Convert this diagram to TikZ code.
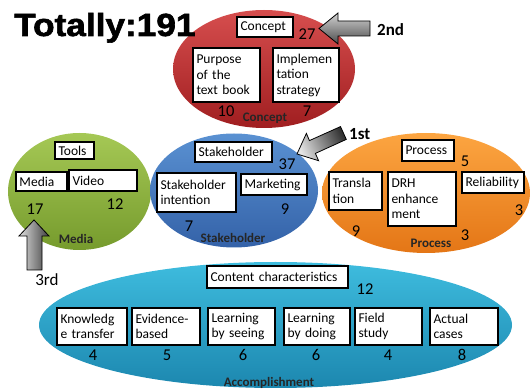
\documentclass[tikz,border=0pt]{standalone}
\usepackage{fontspec}
\usepackage{graphicx}
\setmainfont{Carlito}
\newfontfamily\titlefont[FakeBold=1.8]{Liberation Sans Bold}
\definecolor{redA}{RGB}{214,78,78}
\definecolor{redB}{RGB}{160,30,32}
\definecolor{grnA}{RGB}{165,200,85}
\definecolor{grnB}{RGB}{118,155,45}
\definecolor{bluA}{RGB}{90,145,210}
\definecolor{bluB}{RGB}{52,98,168}
\definecolor{orgA}{RGB}{252,165,65}
\definecolor{orgB}{RGB}{228,118,22}
\definecolor{cyaA}{RGB}{62,188,222}
\definecolor{cyaB}{RGB}{28,135,175}
\begin{document}
\begin{tikzpicture}[x=1pt,y=-1pt,
  box/.style={draw=black, line width=1.3pt, fill=white, font=\fontsize{13.5}{15.5}\selectfont, align=left, inner xsep=3.5pt, inner ysep=1pt, anchor=center},
  num/.style={font=\fontsize{16.5}{18}\selectfont, inner sep=0pt},
  lab/.style={font=\fontsize{13}{15}\selectfont\bfseries, text=black!85, inner sep=0pt},
  rank/.style={font=\fontsize{17}{19}\selectfont\bfseries, inner sep=0pt},
  garrow/.style={draw=black, line width=0.8pt}
]
\useasboundingbox (0,0) rectangle (531,390);

% ellipses
\shade[top color=redA, bottom color=redB] (264,69) ellipse [x radius=91pt, y radius=59pt];
\shade[top color=grnA, bottom color=grnB] (79.5,191.5) ellipse [x radius=71.5pt, y radius=58.5pt];
\shade[top color=bluA, bottom color=bluB] (234,190.5) ellipse [x radius=84pt, y radius=57pt];
\shade[top color=orgA, bottom color=orgB] (426,193) ellipse [x radius=104pt, y radius=60pt];
\shade[top color=cyaA, bottom color=cyaB] (275.5,325) ellipse [x radius=236.5pt, y radius=63pt];

% title
\node[font=\titlefont\fontsize{32}{34}\selectfont, anchor=base west, inner sep=0pt] (title) at (14,36) {\scalebox{1.1}[1]{Totally:191}};

% Concept
\node[box, minimum width=56pt, minimum height=20pt, text width=49pt] (cbox) at (265,27) {Concept};
\node[box, minimum width=67pt, minimum height=54pt, text width=60pt] (purpose) at (226.5,75) {Purpose\\of the\\text book};
\node[box, minimum width=66pt, minimum height=54pt, text width=59pt] (impl) at (306,75) {Implemen\\tation\\strategy};
\node[num] (n27) at (307,34) {27};
\node[num] (n10) at (226,111) {10};
\node[num] (n7a) at (307,111) {7};
\node[lab] (lconcept) at (265,118) {Concept};

% Media
\node[box, minimum width=39pt, minimum height=17pt, text width=32pt] (tools) at (74.5,150.5) {Tools};
\node[box, minimum width=51pt, minimum height=19pt, text width=44pt] (media) at (41.5,181.5) {Media};
\node[box, minimum width=68pt, minimum height=21pt, text width=61pt] (video) at (103,180.5) {Video};
\node[num] (n17) at (35,209) {17};
\node[num] (n12a) at (115,204) {12};
\node[lab] (lmedia) at (76,239) {Media};

% Stakeholder
\node[box, minimum width=77pt, minimum height=20pt, text width=70pt] (stake) at (233.5,152) {Stakeholder};
\node[box, minimum width=79pt, minimum height=39pt, text width=72pt] (intent) at (196.5,192.5) {Stakeholder\\intention};
\node[box, minimum width=66pt, minimum height=21pt, text width=59pt] (market) at (274,184.5) {Marketing};
\node[num] (n37) at (287,164) {37};
\node[num] (n9a) at (285,209) {9};
\node[num] (n7b) at (189,226) {7};
\node[lab] (lstake) at (233,238) {Stakeholder};

% Process
\node[box, minimum width=52pt, minimum height=21pt, text width=45pt] (proc) at (428,150.5) {Process};
\node[box, minimum width=53pt, minimum height=38pt, text width=46pt] (transl) at (355.5,191) {Transla\\tion};
\node[box, minimum width=68pt, minimum height=54pt, text width=61pt] (drh) at (422,199) {DRH\\enhance\\ment};
\node[box, minimum width=61pt, minimum height=21pt, text width=55pt] (reli) at (493,182.5) {Reliability};
\node[num] (n5a) at (465,161) {5};
\node[num] (n3a) at (519,210) {3};
\node[num] (n9b) at (356,231) {9};
\node[num] (n3b) at (465,235) {3};
\node[lab] (lproc) at (431,243) {Process};

% Accomplishment
\node[box, minimum width=141pt, minimum height=22pt, text width=134pt] (content) at (277.5,277) {Content characteristics};
\node[num] (n12b) at (365,289) {12};
\node[box, minimum width=70pt, minimum height=37pt, text width=63pt] (know) at (92,326.5) {Knowledg\\e transfer};
\node[box, minimum width=68pt, minimum height=37pt, text width=61pt] (evid) at (166,326.5) {Evidence-\\based};
\node[box, minimum width=67pt, minimum height=37pt, text width=60pt] (seeing) at (241.5,326.5) {Learning\\by seeing};
\node[box, minimum width=66pt, minimum height=37pt, text width=59pt] (doing) at (317,326.5) {Learning\\by doing};
\node[box, minimum width=67pt, minimum height=37pt, text width=60pt] (field) at (388.5,326.5) {Field\\study};
\node[box, minimum width=68pt, minimum height=37pt, text width=61pt] (actual) at (464,326.5) {Actual\\cases};
\node[num] (n4a) at (93,355) {4};
\node[num] (n5b) at (167,355) {5};
\node[num] (n6a) at (243,355) {6};
\node[num] (n6b) at (316,355) {6};
\node[num] (n4b) at (388,355) {4};
\node[num] (n8) at (462,355) {8};
\node[lab] (lacc) at (269,383) {Accomplishment};

% rank arrows
\draw[garrow, top color=gray!35, bottom color=black!70] (319,28.5) -- (338,13) -- (338,21) -- (370,21) -- (370,36) -- (338,36) -- (338,44) -- cycle;
\node[rank, anchor=west] (second) at (377,30) {2nd};

\draw[garrow, left color=gray!20, right color=black!80, shading angle=115] (297,154) -- (306.4,133.4) -- (309.4,140.6) -- (340.5,126.6) -- (346.3,139.4) -- (315.4,153.4) -- (318.6,160.7) -- cycle;
\node[rank, anchor=west] (first) at (349,134) {1st};

\draw[garrow, left color=gray!25, right color=black!75] (34,220) -- (49,236) -- (42,236) -- (42,270) -- (27,270) -- (27,236) -- (19,236) -- cycle;
\node[font=\fontsize{17}{19}\selectfont, inner sep=0pt] (third) at (47,280) {3rd};
\end{tikzpicture}
\end{document}
